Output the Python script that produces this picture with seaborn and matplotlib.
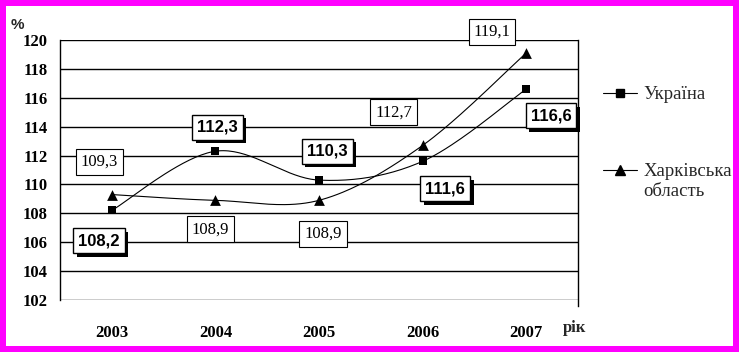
import numpy as np
import pandas as pd
import seaborn as sns
import matplotlib
matplotlib.use("Agg")
import matplotlib.pyplot as plt
from matplotlib.lines import Line2D
from matplotlib.patches import Rectangle
from matplotlib.legend_handler import HandlerLine2D
import matplotlib.patheffects as pe

years = ['2003', '2004', '2005', '2006', '2007']
ukraine = [108.2, 112.3, 110.3, 111.6, 116.6]
kharkiv = [109.3, 108.9, 108.9, 112.7, 119.1]
ukraine_labels = ['108,2', '112,3', '110,3', '111,6', '116,6']
kharkiv_labels = ['109,3', '108,9', '108,9', '112,7', '119,1']
series_names = ['Україна', 'Харківська\nобласть']
yticks = list(range(102, 121, 2))

sns.set_theme(style='white')
plt.rcParams['font.family'] = ['Liberation Serif', 'DejaVu Serif']

SERIF = 'Liberation Serif'
SANS = 'Liberation Sans'


def smooth(ys, n=40):
    x = np.arange(len(ys), dtype=float)
    y = np.asarray(ys, dtype=float)
    pts = np.column_stack([x, y])
    out = []
    for i in range(len(pts) - 1):
        p0 = pts[max(i - 1, 0)]
        p1 = pts[i]
        p2 = pts[i + 1]
        p3 = pts[min(i + 2, len(pts) - 1)]
        c1 = p1 + (p2 - p0) / 6
        c2 = p2 - (p3 - p1) / 6
        t = np.linspace(0, 1, n)[:, None]
        seg = (1 - t) ** 3 * p1 + 3 * (1 - t) ** 2 * t * c1 + 3 * (1 - t) * t ** 2 * c2 + t ** 3 * p2
        out.append(seg if i == 0 else seg[1:])
    return np.vstack(out)


class ShiftedHandler(HandlerLine2D):
    def __init__(self, shift=0.0, **kw):
        super().__init__(**kw)
        self.shift = shift

    def create_artists(self, legend, orig_handle, xdescent, ydescent, width, height, fontsize, trans):
        arts = super().create_artists(legend, orig_handle, xdescent, ydescent, width, height, fontsize, trans)
        for a in arts:
            a.set_ydata(np.asarray(a.get_ydata(), dtype=float) + self.shift)
        return arts


fig = plt.figure(figsize=(7.39, 3.52), dpi=100)
fig.patch.set_facecolor('#FF00FF')
fig.patches.append(Rectangle((6 / 739, 6 / 352), 1 - 12 / 739, 1 - 12 / 352,
                             transform=fig.transFigure, facecolor='white',
                             edgecolor='none', zorder=-10))
ax = fig.add_axes([60 / 739, 1 - 300 / 352, 518 / 739, 260 / 352])
ax.set_facecolor('white')

for yv in yticks:
    ax.axhline(yv, color='black', lw=1.0, zorder=1)

xs = np.arange(len(years))
cu = smooth(ukraine)
ck = smooth(kharkiv)
sns.lineplot(x=cu[:, 0], y=cu[:, 1], sort=False, estimator=None, color='black', lw=0.8, ax=ax, zorder=3)
sns.lineplot(x=ck[:, 0], y=ck[:, 1], sort=False, estimator=None, color='black', lw=0.8, ax=ax, zorder=3)
sns.scatterplot(x=xs, y=ukraine, marker='s', s=40, color='black', edgecolor='black', linewidth=0, ax=ax, zorder=4)
sns.scatterplot(x=xs, y=kharkiv, marker='^', s=60, color='black', edgecolor='black', linewidth=0, ax=ax, zorder=4)

ax.set_xlim(-0.5, 4.5)
ax.set_ylim(102, 120)
ax.set_xticks(xs)
ax.set_xticklabels(years, fontfamily=SERIF, fontweight='bold', fontsize=12)
ax.set_xticks(np.arange(-0.5, 4.6, 1.0), minor=True)
ax.tick_params(axis='x', which='major', length=0, pad=18, colors='black')
ax.tick_params(axis='x', which='minor', length=5, width=1, direction='out', colors='black')
ax.set_yticks(yticks)
ax.set_yticklabels([str(v) for v in yticks], fontfamily=SERIF, fontweight='bold', fontsize=12)
ax.tick_params(axis='y', length=0, pad=9, colors='black')
ax.set_xlabel('')
ax.set_ylabel('')
for s in ['top', 'bottom']:
    ax.spines[s].set_visible(False)
for s in ['left', 'right']:
    ax.spines[s].set_visible(True)
    ax.spines[s].set_color('black')
    ax.spines[s].set_linewidth(1.0)
ax.spines['right'].set_bounds(101.6, 120)

# value labels (positions offset from data points)
uk_pos = [(-0.125, 106.1), (1.02, 113.95), (2.08, 112.3), (3.22, 109.7), (4.24, 114.75)]
kh_pos = [(-0.12, 111.55), (0.95, 106.9), (2.04, 106.6), (2.72, 115.0), (3.67, 120.55)]
for (px, py), lab in zip(uk_pos, ukraine_labels):
    t = ax.text(px, py, lab, ha='center', va='center', fontfamily=SANS, fontweight='bold',
                fontsize=12, color='black', zorder=6, clip_on=False,
                bbox=dict(boxstyle='square,pad=0.3', facecolor='white', edgecolor='black', lw=1.0))
    t.get_bbox_patch().set_path_effects([
        pe.SimplePatchShadow(offset=(2.5, -2.5), shadow_rgbFace='black', alpha=1.0), pe.Normal()])
for (px, py), lab in zip(kh_pos, kharkiv_labels):
    ax.text(px, py, lab, ha='center', va='center', fontfamily=SERIF, fontsize=12,
            color='black', zorder=6, clip_on=False,
            bbox=dict(boxstyle='square,pad=0.3', facecolor='white', edgecolor='black', lw=0.8))

fig.text(17 / 739, 1 - 25 / 352, '%', fontfamily=SANS, fontweight='bold', fontsize=11,
         ha='center', va='center')
fig.text(575 / 739, 1 - 328 / 352, 'рік', fontfamily=SERIF, fontweight='bold', fontsize=12,
         ha='center', va='center')

handles = [Line2D([0], [0], color='black', lw=0.8, marker='s', markersize=6),
           Line2D([0], [0], color='black', lw=0.8, marker='^', markersize=7)]
leg = fig.legend(handles, series_names, loc='upper left', bbox_to_anchor=(603 / 739, 1 - 86 / 352),
                 frameon=False, prop={'family': SERIF, 'size': 13.5}, handlelength=1.8,
                 handletextpad=0.35, labelspacing=3.2, borderaxespad=0, borderpad=0,
                 handler_map={handles[1]: ShiftedHandler(shift=8.0)})

fig.savefig('out.png', dpi=100, facecolor=fig.get_facecolor())
